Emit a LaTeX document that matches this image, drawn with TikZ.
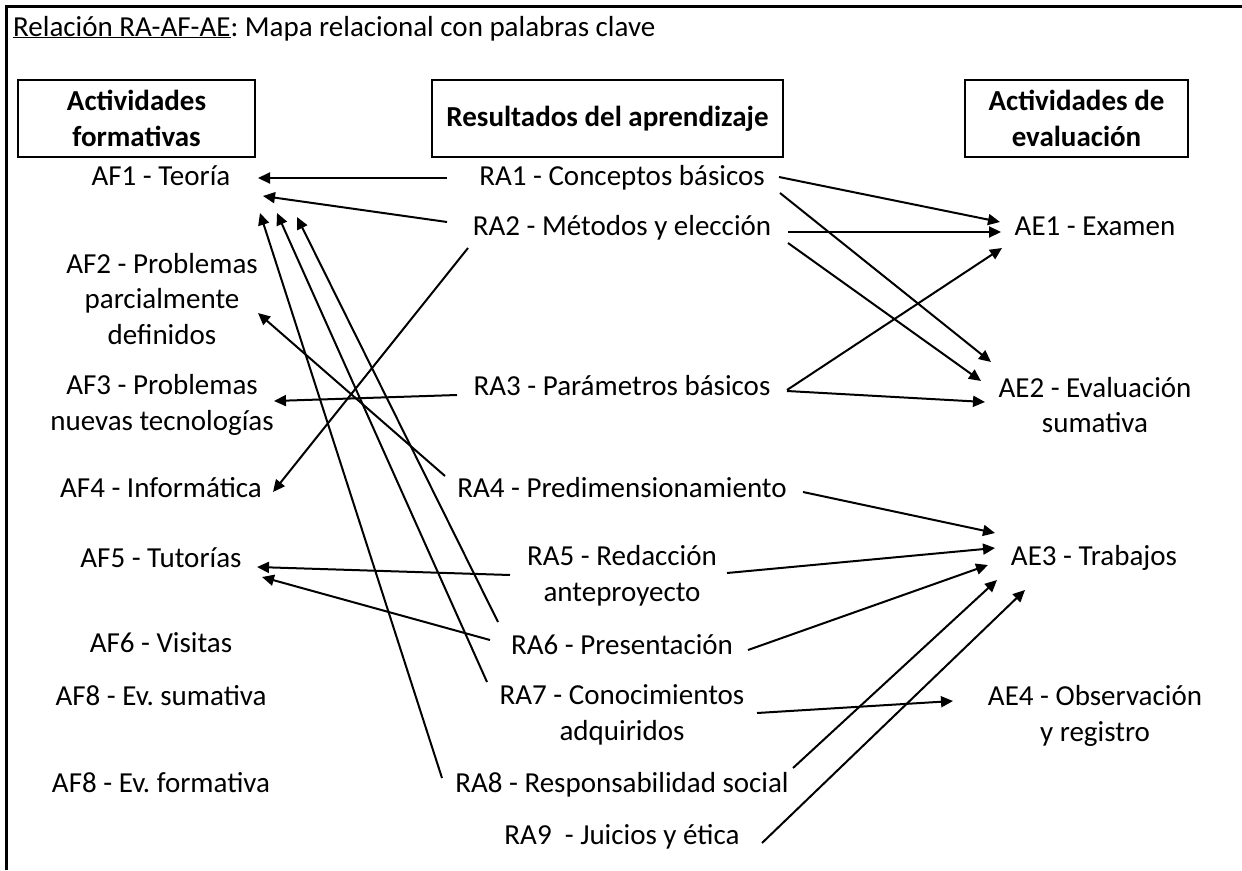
\documentclass[tikz,border=0pt]{standalone}
\usepackage{fontspec}
\setmainfont{Carlito}
\usetikzlibrary{arrows.meta}
\frenchspacing
\begin{document}
\begin{tikzpicture}[x=1pt,y=-1pt,
  one/.style={font=\fontsize{29}{35.5}\selectfont, align=center, inner sep=0pt, text height=21pt, text depth=6pt},
  multi/.style={font=\fontsize{29}{35.5}\selectfont, align=center, inner sep=0pt},
  hdr/.style={font=\fontsize{29}{35.5}\selectfont\bfseries, align=center, draw, line width=2.5pt, inner sep=0pt, minimum height=77pt},
  arr/.style={line width=2pt, -{Triangle[length=12pt,width=11pt]}},
  frame/.style={line width=3pt}]
\useasboundingbox (0,0) rectangle (1242,870);
% frame
\coordinate (fl) at (6,870);
\coordinate (fc) at (6,6);
\coordinate (fr) at (1242,6);
\draw[frame] (fl) -- (fc) -- (fr);
% title
\node[anchor=base west, inner sep=0pt, font=\fontsize{29}{35.5}\selectfont] (title) at (13,36)
  {\underline{Relación RA-AF-AE}: Mapa relacional con palabras clave};
% headers
\node[hdr, minimum width=237pt] (h1) at (136.5,118.5) {Actividades\\formativas};
\node[hdr, minimum width=351pt] (h2) at (607.5,118.5) {Resultados del aprendizaje};
\node[hdr, minimum width=223pt] (h3) at (1076.5,118.5) {Actividades de\\evaluación};
% AF column
\node[one]   (af1) at (161,178) {AF1 - Teoría};
\node[multi] (af2) at (162,299) {AF2 - Problemas\\parcialmente\\definidos};
\node[multi] (af3) at (162,405) {AF3 - Problemas\\nuevas tecnologías};
\node[one]   (af4) at (161,490) {AF4 - Informática};
\node[one]   (af5) at (161,560) {AF5 - Tutorías};
\node[one]   (af6) at (161,645) {AF6 - Visitas};
\node[one]   (af7) at (161,698) {AF8 - Ev. sumativa};
\node[one]   (af8) at (161,785) {AF8 - Ev. formativa};
% RA column
\node[one]   (ra1) at (622,178) {RA1 - Conceptos básicos};
\node[one]   (ra2) at (622,228) {RA2 - Métodos y elección};
\node[one]   (ra3) at (622,388) {RA3 - Parámetros básicos};
\node[one]   (ra4) at (622,490) {RA4 - Predimensionamiento};
\node[multi] (ra5) at (622,576) {RA5 - Redacción\\anteproyecto};
\node[one]   (ra6) at (622,647) {RA6 - Presentación};
\node[multi] (ra7) at (622,715) {RA7 - Conocimientos\\adquiridos};
\node[one]   (ra8) at (622,785) {RA8 - Responsabilidad social};
\node[one]   (ra9) at (622,837) {RA9~ - Juicios y ética};
% AE column
\node[one]   (ae1) at (1095,228) {AE1 - Examen};
\node[multi] (ae2) at (1095,405) {AE2 - Evaluación\\sumativa};
\node[one]   (ae3) at (1094,558) {AE3 - Trabajos};
\node[multi] (ae4) at (1095,716) {AE4 - Observación\\y registro};
% RA -> AF
\draw[arr] ([shift={(-175,0)}]ra1.center) -- ([shift={(97,0)}]af1.center);
\draw[arr] ([shift={(-175,-6)}]ra2.center) -- ([shift={(102,18)}]af1.center);
\draw[arr] ([shift={(-154,20)}]ra2.center) -- ([shift={(112,2)}]af4.center);
\draw[arr] ([shift={(-165,7)}]ra3.center) -- ([shift={(112,-4)}]af3.center);
\draw[arr] ([shift={(-177,-14)}]ra4.center) -- ([shift={(96,14)}]af2.center);
\draw[arr] ([shift={(-124,-25)}]ra6.center) -- ([shift={(136,39)}]af1.center);
\draw[arr] ([shift={(-135,-33)}]ra7.center) -- ([shift={(116,35)}]af1.center);
\draw[arr] ([shift={(-180,-7)}]ra8.center) -- ([shift={(99,35)}]af1.center);
\draw[arr] ([shift={(-112,-1)}]ra5.center) -- ([shift={(96,7)}]af5.center);
\draw[arr] ([shift={(-132,-7)}]ra6.center) -- ([shift={(101,17)}]af5.center);
% RA -> AE
\draw[arr] ([shift={(157,-1)}]ra1.center) -- ([shift={(-95,-6)}]ae1.center);
\draw[arr] ([shift={(158,15)}]ra1.center) -- ([shift={(-104,-43)}]ae2.center);
\draw[arr] ([shift={(166,4)}]ra2.center) -- ([shift={(-94,4)}]ae1.center);
\draw[arr] ([shift={(166,15)}]ra2.center) -- ([shift={(-114,-24)}]ae2.center);
\draw[arr] ([shift={(165,2)}]ra3.center) -- ([shift={(-93,20)}]ae1.center);
\draw[arr] ([shift={(165,3)}]ra3.center) -- ([shift={(-110,-3)}]ae2.center);
\draw[arr] ([shift={(181,2)}]ra4.center) -- ([shift={(-99,-25)}]ae3.center);
\draw[arr] ([shift={(105,-3)}]ra5.center) -- ([shift={(-99,-10)}]ae3.center);
\draw[arr] ([shift={(126,3)}]ra6.center) -- ([shift={(-106,7)}]ae3.center);
\draw[arr] ([shift={(135,-2)}]ra7.center) -- ([shift={(-142,-15)}]ae4.center);
\draw[arr] ([shift={(171,-17)}]ra8.center) -- ([shift={(-97,22)}]ae3.center);
\draw[arr] ([shift={(140,6)}]ra9.center) -- ([shift={(-69,32)}]ae3.center);
\end{tikzpicture}
\end{document}
